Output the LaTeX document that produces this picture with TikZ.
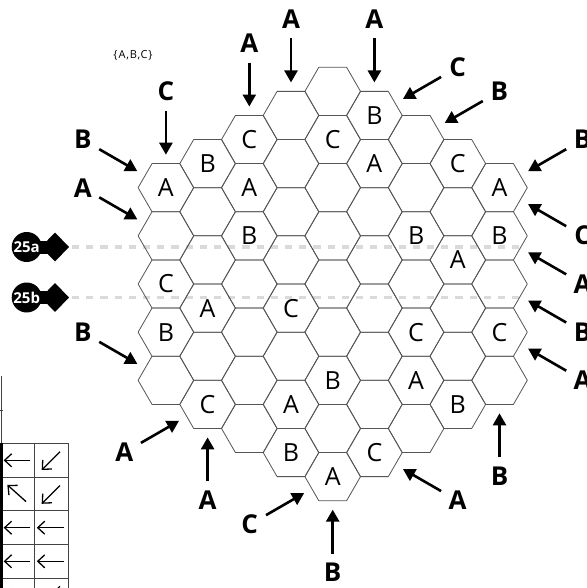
\documentclass[tikz,border=0pt]{standalone}
\usepackage{fontspec}
\setmainfont{Open Sans}
\usetikzlibrary{arrows.meta,calc,shapes.geometric}
\definecolor{hexgray}{HTML}{555555}
\definecolor{dashgray}{HTML}{DADADA}
\definecolor{gridgray}{HTML}{444444}
\def\Cx{332.7}\def\Cy{284}\def\HR{27.8}\def\HDX{41.7}\def\HDY{24.08}
\newcommand\hexlabel[3]{\expandafter\def\csname hl:#1:#2\endcsname{#3}}
\hexlabel{1}{-7}{B}
\hexlabel{-2}{-6}{C}
\hexlabel{0}{-6}{C}
\hexlabel{-3}{-5}{B}
\hexlabel{1}{-5}{A}
\hexlabel{3}{-5}{C}
\hexlabel{-4}{-4}{A}
\hexlabel{-2}{-4}{A}
\hexlabel{4}{-4}{A}
\hexlabel{-2}{-2}{B}
\hexlabel{2}{-2}{B}
\hexlabel{4}{-2}{B}
\hexlabel{3}{-1}{A}
\hexlabel{-4}{0}{C}
\hexlabel{-3}{1}{A}
\hexlabel{-1}{1}{C}
\hexlabel{-4}{2}{B}
\hexlabel{2}{2}{C}
\hexlabel{4}{2}{C}
\hexlabel{0}{4}{B}
\hexlabel{2}{4}{A}
\hexlabel{-3}{5}{C}
\hexlabel{-1}{5}{A}
\hexlabel{3}{5}{B}
\hexlabel{-1}{7}{B}
\hexlabel{1}{7}{C}
\hexlabel{0}{8}{A}
\tikzset{
  hexlab/.style={inner sep=0pt, font=\fontsize{25}{30}\selectfont},
  hexline/.style={draw=hexgray, line width=0.8pt, line join=round},
  edgelab/.style={inner sep=0pt, font=\fontsize{26}{31}\selectfont\bfseries},
  feed/.style={line width=2.6pt, -{Triangle[width=13pt,length=12pt]}},
  dashline/.style={draw=dashgray, line width=3.8pt, dash pattern=on 7.2pt off 7pt},
  marker/.style={circle, fill=black, inner sep=0pt, minimum size=30pt, text=white, font=\fontsize{15}{18}\selectfont\bfseries},
  cellL/.style={draw=gridgray, line width=0.9pt, minimum width=32.3pt, minimum height=33.6pt, inner sep=0pt},
  cellR/.style={draw=gridgray, line width=0.9pt, minimum width=34pt, minimum height=33.6pt, inner sep=0pt},
  cellarrow/.style={line width=1.3pt, -{Straight Barb[length=7pt,width=13pt]}},
  smalltext/.style={inner sep=0pt, font=\fontsize{11}{13}\selectfont\addfontfeatures{LetterSpace=8}}
}
\begin{document}
\begin{tikzpicture}[x=1pt,y=-1pt]
\path[fill=white,use as bounding box] (0,0) rectangle (586,588);

% dashed guide lines with markers
\foreach \id/\yy in {25a/247, 25b/297.5}{
  \coordinate (c\id) at (26.7,\yy);
  \fill (c\id) ++(0,-6.5) rectangle ++(24,13);
  \fill (41,\yy) -- (55,{\yy-14.5}) -- (69,\yy) -- (55,{\yy+14.5}) -- cycle;
  \coordinate (d\id) at (69,\yy);
  \node[marker] (m\id) at (c\id) {\id};
  \coordinate (e\id) at (521,\yy);
  \draw[dashline] ([xshift=3pt]d\id) -- (e\id);
}

% hex board
\foreach \cc in {-4,...,4}{%
  \pgfmathtruncatemacro\mmax{8-abs(\cc)}%
  \pgfmathtruncatemacro\mneg{-\mmax}%
  \pgfmathtruncatemacro\mnext{-\mmax+2}%
  \foreach \mm in {\mneg,\mnext,...,\mmax}{%
    \node[hexlab] (h\cc m\mm) at ({\Cx+\cc*\HDX},{\Cy+\mm*\HDY}) {\csname hl:\cc:\mm\endcsname};
    \draw[hexline] (h\cc m\mm.center) ++(\HR,0) -- ++({-\HR/2},\HDY) -- ++({-\HR},0)
      -- ++({-\HR/2},{-\HDY}) -- ++({\HR/2},{-\HDY}) -- ++(\HR,0) -- cycle;
  }}

% edge arrows
\foreach \cc/\mm/\ux/\uy/\lab/\id in {
  -4/-4/0/-1/C/1, -2/-6/0/-1/A/2, -1/-7/0/-1/A/3, 1/-7/0/-1/A/4,
  1/-7/0.866/-0.5/C/5, 2/-6/0.866/-0.5/B/6, 4/-4/0.866/-0.5/B/7,
  4/-4/0.866/0.5/C/8, 4/-2/0.866/0.5/A/9, 4/0/0.866/0.5/B/10, 4/2/0.866/0.5/A/11,
  4/4/0/1/B/12, 1/7/0.866/0.5/A/13, 0/8/0/1/B/14, 0/8/-0.866/0.5/C/15,
  -3/5/0/1/A/16, -3/5/-0.866/0.5/A/17, -4/4/-0.866/-0.5/B/18,
  -4/-2/-0.866/-0.5/A/19, -4/-4/-0.866/-0.5/B/20}{
  \coordinate (t\id) at ($(h\cc m\mm.center)+({33*\ux},{33*\uy})$);
  \coordinate (s\id) at ($(h\cc m\mm.center)+({77*\ux},{77*\uy})$);
  \node[edgelab] (l\id) at ($(h\cc m\mm.center)+({96*\ux},{96*\uy})$) {\lab};
  \draw[feed] (s\id) -- (t\id);
}

\node[smalltext] (set) at (133,55.5) {\{A,B,C\}};

% partial table at bottom left
\draw[gridgray, line width=0.8pt] (1,376) -- (1,443);
\draw[gridgray, line width=0.8pt] (0,410) -- (2.5,410);
\foreach \r/\yy in {1/460.3, 2/494.1, 3/527.7, 4/561.3, 5/594.9}{
  \node[cellL] (cL\r) at (18.15,\yy) {};
  \node[cellR] (cR\r) at (51.3,\yy) {};
}
\draw[black, line width=2.6pt] (1.3,443.3) -- (1.3,600);
% cell arrows
\foreach \r in {1,3,4,5}{
  \draw[cellarrow] ($(cL\r.center)+(12.3,0)$) -- ($(cL\r.center)+(-14.5,0)$);
}
\draw[cellarrow] ($(cL2.center)+(7.9,7.5)$) -- ($(cL2.center)+(-10.8,-9.2)$);
\foreach \r in {3,4}{
  \draw[cellarrow] ($(cR\r.center)+(12.3,0)$) -- ($(cR\r.center)+(-14.5,0)$);
}
\foreach \r in {1,2,5}{
  \draw[cellarrow] ($(cR\r.center)+(8.7,-8.6)$) -- ($(cR\r.center)+(-9.6,9.7)$);
}
\end{tikzpicture}
\end{document}
